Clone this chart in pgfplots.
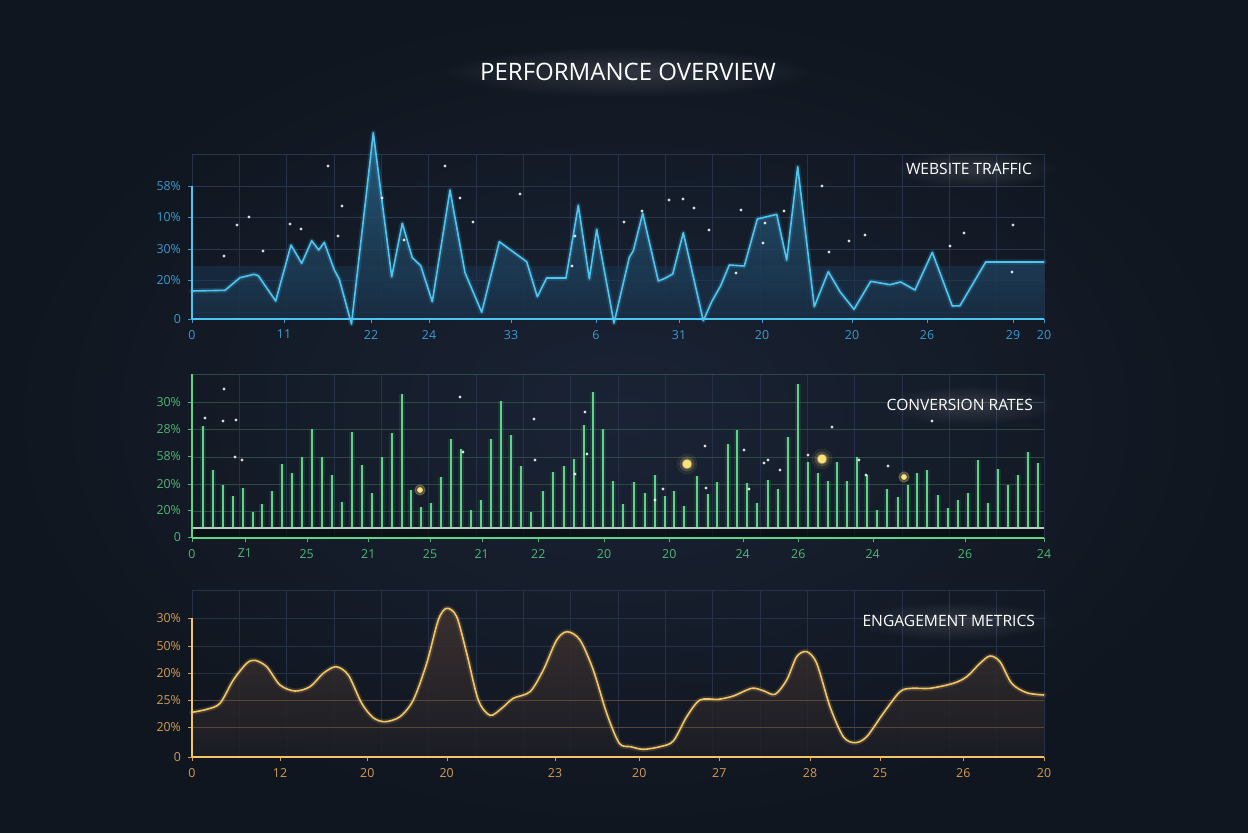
\documentclass[border=0pt]{standalone}
\usepackage{pgfplots}
\pgfplotsset{compat=1.18}
\usepackage{fontspec}
\setmainfont{Open Sans}
\usetikzlibrary{fadings}
\tikzfading[name=soft, inner color=transparent!0, outer color=transparent!100]
\definecolor{bgin}{HTML}{1A2335}
\definecolor{bgout}{HTML}{10161F}
\definecolor{cyanL}{HTML}{4EC6F2}
\definecolor{cyanT}{HTML}{3A9BD0}
\definecolor{cyanG}{HTML}{263850}
\definecolor{cyanF}{HTML}{2B7098}
\definecolor{cyanFB}{HTML}{182A3E}
\definecolor{cyanB}{HTML}{1B3550}
\definecolor{grnL}{HTML}{5ED486}
\definecolor{grnT}{HTML}{4DB874}
\definecolor{grnG}{HTML}{2A4A42}
\definecolor{gridV}{HTML}{253149}
\definecolor{gldL}{HTML}{F3C566}
\definecolor{gldT}{HTML}{D39C52}
\definecolor{gldF}{HTML}{40332F}
\definecolor{gldFB}{HTML}{1C1E26}
\definecolor{gldG}{HTML}{5A4436}
\definecolor{glowY}{HTML}{FFE27A}

\pgfplotsset{
  panel/.style={
    x=0.5pt, y=0.5pt, xmin=0, xmax=852,
    clip=false,
    axis line style={draw=none},
    tick pos=left,
    tick align=outside,
    major tick length=2pt,
    minor tick length=0pt,
    xmajorgrids=false, ymajorgrids=false,
    xminorgrids=true, yminorgrids=true,
    minor xtick={0,47.33,94.67,142,189.33,236.67,284,331.33,378.67,426,473.33,520.67,568,615.33,662.67,710,757.33,804.67,852},
    minor x grid style={gridV, line width=0.5pt},
    ticklabel style={font=\fontsize{6.2}{7}\selectfont},
  },
  stars/.style={only marks, mark=*, mark size=0.55pt, white, opacity=0.75},
  glowline/.style={line width=2.6pt, opacity=0.16, line join=round, line cap=round},
}

\begin{document}
\begin{tikzpicture}
\shade[inner color=bgin, outer color=bgout] (0,0) rectangle (624pt,416pt);

% title
\fill[white, opacity=0.13, path fading=soft] (314pt,380pt) ellipse (95pt and 13pt);
\node[text=white, font=\fontsize{12}{14}\selectfont] at (314pt,380pt) {PERFORMANCE OVERVIEW};

% ---------------- Panel 1: website traffic
\begin{axis}[panel, at={(96pt,256.5pt)}, anchor=south west,
  ymin=0, ymax=164.5,
  xtick={0,92,179,237,319,404,487,570,660,735,821,852},
  xticklabels={0,11,22,24,33,6,31,20,20,26,29,20},
  ytick={0,39,70,101.5,133},
  yticklabels={0,20\%,30\%,10\%,58\%},
  minor ytick={7,38.5,70,101.5,133,164.5},
  minor y grid style={cyanG, line width=0.5pt},
  tick style={cyanT},
  ticklabel style={text=cyanT},
]
\fill[cyanB, opacity=0.55] (axis cs:0,0) rectangle (axis cs:852,53);
\addplot[draw=none, top color=cyanF, bottom color=cyanFB, fill opacity=0.75] coordinates {
(0,28) (33,28.7) (48,41.3) (62,44.7) (66.3,43.3) (83.7,18) (99,74) (109.7,55.7) (119.7,78.3) (126.7,69) (132.3,76.7) (142.3,49) (147.3,39.7) (159.5,-5) (181.3,186.3) (199.7,42.3) (210.3,95.7) (220.3,61.3) (228.7,53.3) (240.3,17.3) (258,129) (273,46.3) (289.7,6.7) (307.3,77.3) (334.7,57.3) (345.3,22.3) (354.7,41) (374,41) (386.3,113.7) (397.3,40.3) (404.7,89.7) (422,-4) (437.3,61.7) (441.3,68.3) (450.7,105.7) (466.3,38) (473,40.7) (480.7,45) (491.3,86.3) (511.3,-1.7) (519.7,17.3) (528.7,33.3) (537.3,54) (552.3,53) (565.3,100) (584.7,104.7) (594.7,59) (605.7,152.3) (622.3,12.3) (636.3,47.3) (648,27.3) (662,9.7) (678.7,37.7) (698,34.3) (708.7,37) (723,29) (740.3,66.7) (760.3,13) (768,13.3) (793.7,57) (852,57)
} \closedcycle;
\addplot[cyanL, glowline] coordinates {
(0,28) (33,28.7) (48,41.3) (62,44.7) (66.3,43.3) (83.7,18) (99,74) (109.7,55.7) (119.7,78.3) (126.7,69) (132.3,76.7) (142.3,49) (147.3,39.7) (159.5,-5) (181.3,186.3) (199.7,42.3) (210.3,95.7) (220.3,61.3) (228.7,53.3) (240.3,17.3) (258,129) (273,46.3) (289.7,6.7) (307.3,77.3) (334.7,57.3) (345.3,22.3) (354.7,41) (374,41) (386.3,113.7) (397.3,40.3) (404.7,89.7) (422,-4) (437.3,61.7) (441.3,68.3) (450.7,105.7) (466.3,38) (473,40.7) (480.7,45) (491.3,86.3) (511.3,-1.7) (519.7,17.3) (528.7,33.3) (537.3,54) (552.3,53) (565.3,100) (584.7,104.7) (594.7,59) (605.7,152.3) (622.3,12.3) (636.3,47.3) (648,27.3) (662,9.7) (678.7,37.7) (698,34.3) (708.7,37) (723,29) (740.3,66.7) (760.3,13) (768,13.3) (793.7,57) (852,57)
};
\addplot[cyanL, line width=0.8pt, line join=round] coordinates {
(0,28) (33,28.7) (48,41.3) (62,44.7) (66.3,43.3) (83.7,18) (99,74) (109.7,55.7) (119.7,78.3) (126.7,69) (132.3,76.7) (142.3,49) (147.3,39.7) (159.5,-5) (181.3,186.3) (199.7,42.3) (210.3,95.7) (220.3,61.3) (228.7,53.3) (240.3,17.3) (258,129) (273,46.3) (289.7,6.7) (307.3,77.3) (334.7,57.3) (345.3,22.3) (354.7,41) (374,41) (386.3,113.7) (397.3,40.3) (404.7,89.7) (422,-4) (437.3,61.7) (441.3,68.3) (450.7,105.7) (466.3,38) (473,40.7) (480.7,45) (491.3,86.3) (511.3,-1.7) (519.7,17.3) (528.7,33.3) (537.3,54) (552.3,53) (565.3,100) (584.7,104.7) (594.7,59) (605.7,152.3) (622.3,12.3) (636.3,47.3) (648,27.3) (662,9.7) (678.7,37.7) (698,34.3) (708.7,37) (723,29) (740.3,66.7) (760.3,13) (768,13.3) (793.7,57) (852,57)
};
\addplot[stars] coordinates {
(45,94) (57,102) (32,63) (71,68) (98,95) (109,90) (136,153) (146,83) (150,113) (190,121) (212,79) (253,153) (268,121) (281,97) (328,125) (380,53) (383,83) (432,97) (450,108) (477,119) (491,120) (502,111) (517,89) (544,46) (549,109) (571,76) (573,96) (592,108) (630,133) (637,67) (657,78) (673,84) (758,73) (772,86) (821,94) (820,47)
};
\draw[cyanL, line width=1pt] (axis cs:0,0) -- (axis cs:852,0);
\draw[cyanL, line width=0.8pt] (axis cs:0,0) -- (axis cs:0,133);
\end{axis}
\fill[white, opacity=0.13, path fading=soft] (487.5pt,331.5pt) ellipse (42pt and 10pt);
\node[anchor=east, text=white, font=\fontsize{7.8}{10}\selectfont] at (519.5pt,331.5pt) {WEBSITE TRAFFIC};

% ---------------- Panel 2: conversion rates
\begin{axis}[panel, at={(96pt,147pt)}, anchor=south west,
  ymin=-10, ymax=154,
  xtick={0,53,114.7,176.3,238,289.7,346.3,412,477.3,550.7,606.3,680.7,773,852},
  xticklabels={0,Z1,25,21,25,21,22,20,20,24,26,24,26,24},
  ytick={-9,18,44,72,99,126},
  yticklabels={0,20\%,20\%,58\%,28\%,30\%},
  minor ytick={17,44,71,99,126,154},
  minor y grid style={grnG, line width=0.5pt},
  tick style={grnT},
  ticklabel style={text=grnT},
]
\fill[black!60!bgout, opacity=0.6] (axis cs:0,-10) rectangle (axis cs:852,0);
\addplot[ycomb, grnL, line width=3pt, opacity=0.10] coordinates {
(11.3,102) (20.7,57.7) (30.7,43) (40.7,32) (50.7,40.3) (60.7,16.3) (70.3,24) (80.3,36.7) (90.3,64.3) (100,54.7) (110,71.3) (120,99) (130,71.3) (140,52.7) (150,26.3) (160,96) (169.7,63) (179.7,34.7) (189.7,70.7) (199.7,95.3) (209.7,134.3) (219.3,38) (229.3,21.3) (239,24.7) (249,51.3) (259,88.7) (269,78.7) (279,18) (289,28) (299,88.7) (309,126.7) (319,93.3) (328.7,62) (338.7,16.3) (351.3,37) (361.3,56) (372,62) (381.7,68.7) (391.7,103.3) (401.3,135.7) (411.3,98.7) (421.3,46.7) (430.7,24) (442,46) (453,34.7) (463,52.7) (472.7,32) (482.3,36.7) (492,22) (505,52) (515.7,33.7) (525.3,45.7) (535.7,83.7) (545,98.3) (555,44.7) (565.3,25.3) (575.7,48) (585.7,38.7) (595.7,91.3) (606,144) (615.7,65.7) (625.7,54.7) (635.7,47) (645.3,66.3) (655.3,47.3) (665,71.3) (675,53) (685,18) (695.3,38.7) (705.7,31.3) (715.7,43.3) (725.3,55.3) (735.3,58) (745.7,33.3) (755.7,19.7) (765.7,28) (775.7,34.7) (785.7,68) (795.7,24.7) (805.7,58.7) (815.7,43) (825.7,53) (835.7,76) (845.7,64.7)
};
\addplot[ycomb, grnL, line width=1pt] coordinates {
(11.3,102) (20.7,57.7) (30.7,43) (40.7,32) (50.7,40.3) (60.7,16.3) (70.3,24) (80.3,36.7) (90.3,64.3) (100,54.7) (110,71.3) (120,99) (130,71.3) (140,52.7) (150,26.3) (160,96) (169.7,63) (179.7,34.7) (189.7,70.7) (199.7,95.3) (209.7,134.3) (219.3,38) (229.3,21.3) (239,24.7) (249,51.3) (259,88.7) (269,78.7) (279,18) (289,28) (299,88.7) (309,126.7) (319,93.3) (328.7,62) (338.7,16.3) (351.3,37) (361.3,56) (372,62) (381.7,68.7) (391.7,103.3) (401.3,135.7) (411.3,98.7) (421.3,46.7) (430.7,24) (442,46) (453,34.7) (463,52.7) (472.7,32) (482.3,36.7) (492,22) (505,52) (515.7,33.7) (525.3,45.7) (535.7,83.7) (545,98.3) (555,44.7) (565.3,25.3) (575.7,48) (585.7,38.7) (595.7,91.3) (606,144) (615.7,65.7) (625.7,54.7) (635.7,47) (645.3,66.3) (655.3,47.3) (665,71.3) (675,53) (685,18) (695.3,38.7) (705.7,31.3) (715.7,43.3) (725.3,55.3) (735.3,58) (745.7,33.3) (755.7,19.7) (765.7,28) (775.7,34.7) (785.7,68) (795.7,24.7) (805.7,58.7) (815.7,43) (825.7,53) (835.7,76) (845.7,64.7)
};
\addplot[stars] coordinates {
(13,110) (31,107) (32,139) (44,108) (43,71) (50,68) (268,131) (271,76) (342,109) (343,68) (383,54) (393,116) (395,74) (463,28) (471,39) (513,82) (514,40) (557,39) (552,78) (572,65) (576,68) (588,58) (616,73) (640,101) (667,68) (674,53) (740,107) (696,62)
};
\addplot[only marks, mark=*, mark size=5pt, glowY, opacity=0.06] coordinates {(495,64) (630,69)};
\addplot[only marks, mark=*, mark size=3.6pt, glowY, opacity=0.12] coordinates {(495,64) (630,69)};
\addplot[only marks, mark=*, mark size=2.6pt, glowY, opacity=0.25] coordinates {(495,64) (630,69) (712,51) (228,38)};
\addplot[only marks, mark=*, mark size=2pt, glowY] coordinates {(495,64) (630,69)};
\addplot[only marks, mark=*, mark size=1.2pt, glowY] coordinates {(712,51) (228,38)};
\draw[black!20!white!80!grnL, line width=1pt] (axis cs:0,0) -- (axis cs:852,0);
\draw[grnL, line width=0.9pt] (axis cs:0,-10) -- (axis cs:852,-10);
\draw[grnL, line width=0.8pt] (axis cs:0,-10) -- (axis cs:0,154);
\end{axis}
\fill[white, opacity=0.13, path fading=soft] (485pt,213.5pt) ellipse (45pt and 10pt);
\node[anchor=east, text=white, font=\fontsize{7.8}{10}\selectfont] at (520pt,213.5pt) {CONVERSION RATES};

% ---------------- Panel 3: engagement metrics
\begin{axis}[panel, at={(96pt,37.5pt)}, anchor=south west,
  ymin=0, ymax=167,
  xtick={0,88,175.3,254.7,363,447.3,527.3,618,688,771.3,852},
  xticklabels={0,12,20,20,23,20,27,28,25,26,20},
  ytick={0,30,57,84,111,139},
  yticklabels={0,20\%,25\%,20\%,50\%,30\%},
  minor ytick={84,111,139,167},
  minor y grid style={gridV, line width=0.5pt},
  tick style={gldT},
  ticklabel style={text=gldT},
]
\addplot[draw=none, top color=gldF, bottom color=gldFB, fill opacity=0.85, smooth, tension=0.5] coordinates {
(0,44.7) (14.7,47.7) (28,53.7) (41.3,77) (54.7,93.7) (63,96.7) (74.7,90.3) (88,72) (103,66) (118,70.3) (131.3,83.7) (144,90.3) (156.3,82) (169.7,53.7) (181.3,39.3) (193,35.3) (208,40.3) (221.3,57) (234.7,93.7) (246.3,137) (254.7,148.7) (264.7,140.3) (274.7,103.7) (286.3,57) (298,41.7) (309.7,48.7) (321.3,58.7) (338,65.3) (351.3,87) (364.7,117) (375.3,125.3) (388,117) (401.3,87) (414.7,43.7) (427.3,13.7) (438.7,10.3) (451.3,7.7) (468,10.3) (481.3,16) (494.7,40.3) (508,57) (526.3,57.7) (541.3,61) (559.7,68.7) (571.3,66.3) (583,62.7) (594.7,77) (604.7,100.3) (614.7,105.3) (624.7,93.7) (638,50.3) (651.3,20.3) (663,14.3) (674.7,20.3) (691.3,43.7) (708,65.3) (719.7,68.7) (738,68.7) (761.3,73.7) (774.7,80.3) (788,93.7) (798,101) (808,95.3) (819.7,73.7) (834.7,64.3) (852,62)
} \closedcycle;
\draw[gldG, line width=0.5pt] (axis cs:0,30) -- (axis cs:852,30);
\draw[gldG, line width=0.5pt] (axis cs:0,57) -- (axis cs:852,57);
\addplot[gldL, glowline, smooth, tension=0.5] coordinates {
(0,44.7) (14.7,47.7) (28,53.7) (41.3,77) (54.7,93.7) (63,96.7) (74.7,90.3) (88,72) (103,66) (118,70.3) (131.3,83.7) (144,90.3) (156.3,82) (169.7,53.7) (181.3,39.3) (193,35.3) (208,40.3) (221.3,57) (234.7,93.7) (246.3,137) (254.7,148.7) (264.7,140.3) (274.7,103.7) (286.3,57) (298,41.7) (309.7,48.7) (321.3,58.7) (338,65.3) (351.3,87) (364.7,117) (375.3,125.3) (388,117) (401.3,87) (414.7,43.7) (427.3,13.7) (438.7,10.3) (451.3,7.7) (468,10.3) (481.3,16) (494.7,40.3) (508,57) (526.3,57.7) (541.3,61) (559.7,68.7) (571.3,66.3) (583,62.7) (594.7,77) (604.7,100.3) (614.7,105.3) (624.7,93.7) (638,50.3) (651.3,20.3) (663,14.3) (674.7,20.3) (691.3,43.7) (708,65.3) (719.7,68.7) (738,68.7) (761.3,73.7) (774.7,80.3) (788,93.7) (798,101) (808,95.3) (819.7,73.7) (834.7,64.3) (852,62)
};
\addplot[gldL, line width=0.8pt, smooth, tension=0.5] coordinates {
(0,44.7) (14.7,47.7) (28,53.7) (41.3,77) (54.7,93.7) (63,96.7) (74.7,90.3) (88,72) (103,66) (118,70.3) (131.3,83.7) (144,90.3) (156.3,82) (169.7,53.7) (181.3,39.3) (193,35.3) (208,40.3) (221.3,57) (234.7,93.7) (246.3,137) (254.7,148.7) (264.7,140.3) (274.7,103.7) (286.3,57) (298,41.7) (309.7,48.7) (321.3,58.7) (338,65.3) (351.3,87) (364.7,117) (375.3,125.3) (388,117) (401.3,87) (414.7,43.7) (427.3,13.7) (438.7,10.3) (451.3,7.7) (468,10.3) (481.3,16) (494.7,40.3) (508,57) (526.3,57.7) (541.3,61) (559.7,68.7) (571.3,66.3) (583,62.7) (594.7,77) (604.7,100.3) (614.7,105.3) (624.7,93.7) (638,50.3) (651.3,20.3) (663,14.3) (674.7,20.3) (691.3,43.7) (708,65.3) (719.7,68.7) (738,68.7) (761.3,73.7) (774.7,80.3) (788,93.7) (798,101) (808,95.3) (819.7,73.7) (834.7,64.3) (852,62)
};
\draw[gldL, line width=1pt] (axis cs:0,0) -- (axis cs:852,0);
\draw[gldL, line width=0.8pt] (axis cs:0,0) -- (axis cs:0,139);
\end{axis}
\fill[white, opacity=0.13, path fading=soft] (478pt,105.5pt) ellipse (52pt and 10pt);
\node[anchor=east, text=white, font=\fontsize{7.8}{10}\selectfont] at (521pt,105.5pt) {ENGAGEMENT METRICS};
\end{tikzpicture}
\end{document}
